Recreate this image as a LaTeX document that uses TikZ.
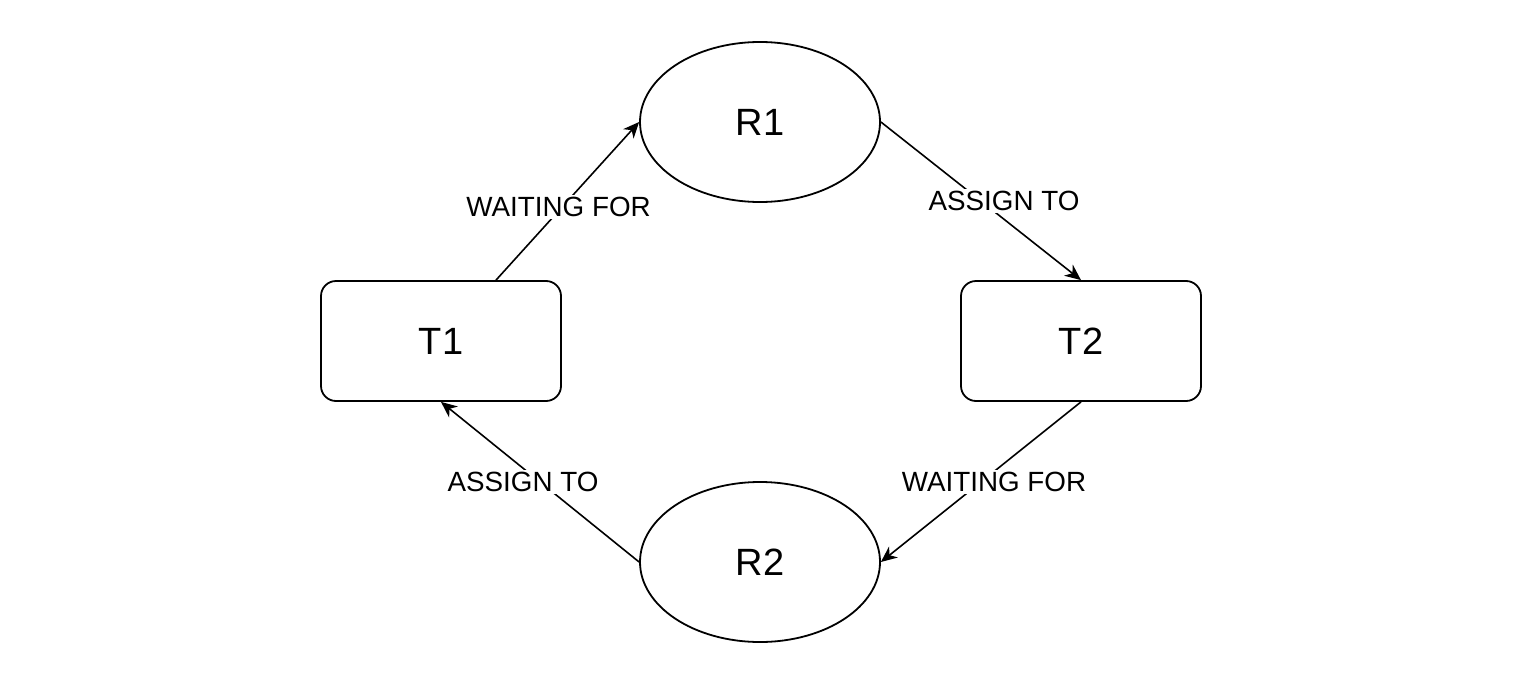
\documentclass[tikz,border=0pt]{standalone}
\usepackage{fontspec}
\setmainfont{Liberation Sans}
\usepackage{tikz}
\usetikzlibrary{arrows.meta, positioning, shapes.geometric}

\begin{document}
\begin{tikzpicture}[x=0.5pt, y=-0.5pt,
    every node/.style={font=\fontsize{19}{21}\selectfont},
    arr/.style = {-{Stealth[length=8pt,width=7pt,inset=2.5pt]}, line width=0.8pt},
    res/.style = {ellipse, draw, line width=0.9pt, inner sep=0pt,
                     minimum width=120pt, minimum height=80pt},
    task/.style = {rectangle, draw, line width=0.9pt, rounded corners=7.5pt,
                     minimum width=120pt, minimum height=60pt},
    lbl/.style = {fill=white, inner sep=1pt, font=\fontsize{13.9}{15}\selectfont}
]
\useasboundingbox (0,0) rectangle (1520,680);

\node (r1) [res]  at (760,122) {R1};
\node (r2) [res]  at (760,562) {R2};
\node (t1) [task] at (441,341) {T1};
\node (t2) [task] at (1081,341) {T2};

\draw[arr] ([xshift=27.5pt] t1.north) -- (r1.west)
    node[lbl, pos=0.5, xshift=-4.5pt, yshift=-3pt] {WAITING FOR};
\draw[arr] (r1.east) -- (t2.north)
    node[lbl, pos=0.5, xshift=11.5pt] {ASSIGN TO};
\draw[arr] (t2.south) -- (r2.east)
    node[lbl, pos=0.5, xshift=6.5pt] {WAITING FOR};
\draw[arr] (r2.west) -- (t1.south)
    node[lbl, pos=0.5, xshift=-8.5pt] {ASSIGN TO};

\end{tikzpicture}
\end{document}
